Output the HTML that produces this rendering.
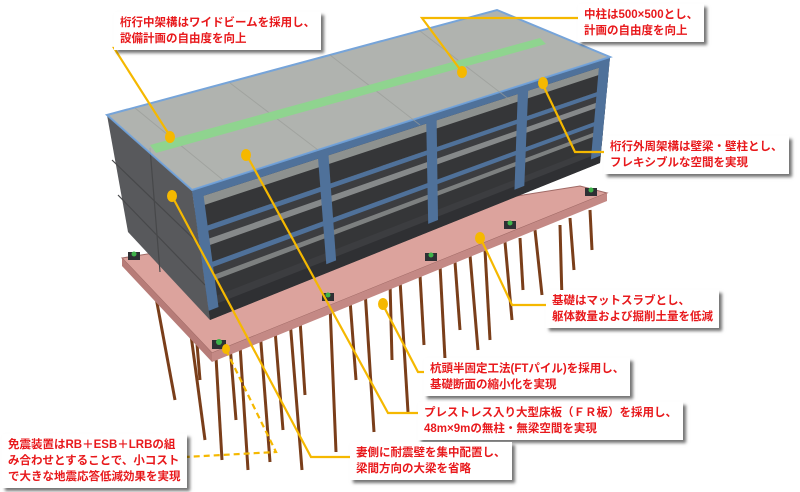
<!DOCTYPE html>
<html><head><meta charset="utf-8"><style>
html,body{margin:0;padding:0;background:#fff;}
body{width:800px;height:492px;overflow:hidden;position:relative;font-family:"Liberation Sans","Noto Sans CJK JP",sans-serif;}
.box{position:absolute;background:#fff;color:#e8191c;font-size:11.5px;font-weight:bold;line-height:16px;padding:3px 6px;box-shadow:3px 3px 3px rgba(0,0,0,0.55);white-space:nowrap;}
svg{position:absolute;left:0;top:0;}
</style></head><body>
<svg id="s" width="800" height="492" viewBox="0 0 800 492">
<g stroke="#7a3e1a" stroke-width="3">
<line x1="150" y1="265" x2="175" y2="400"/><line x1="185" y1="290" x2="205" y2="440"/>
<line x1="215" y1="340" x2="222" y2="460"/><line x1="240" y1="345" x2="248" y2="470"/>
<line x1="260" y1="330" x2="270" y2="462"/><line x1="290" y1="320" x2="302" y2="470"/>
<line x1="330" y1="305" x2="336" y2="452"/><line x1="365" y1="290" x2="374" y2="432"/>
<line x1="400" y1="280" x2="408" y2="412"/><line x1="440" y1="265" x2="446" y2="378"/>
<line x1="470" y1="255" x2="478" y2="350"/><line x1="505" y1="242" x2="512" y2="320"/>
<line x1="535" y1="230" x2="542" y2="295"/><line x1="570" y1="218" x2="574" y2="270"/>
<line x1="590" y1="210" x2="592" y2="250"/><line x1="300" y1="320" x2="305" y2="395"/>
<line x1="350" y1="300" x2="356" y2="380"/><line x1="420" y1="275" x2="424" y2="345"/>
<line x1="455" y1="262" x2="460" y2="330"/><line x1="520" y1="238" x2="523" y2="290"/>
<line x1="195" y1="320" x2="200" y2="380"/><line x1="230" y1="345" x2="236" y2="420"/>
<line x1="275" y1="330" x2="283" y2="430"/><line x1="390" y1="282" x2="392" y2="360"/>
<line x1="560" y1="225" x2="562" y2="300"/><line x1="485" y1="250" x2="490" y2="340"/>
</g>
<polygon points="122,258 580,186 607,193 212,353" fill="#dca39d" stroke="#a06a66" stroke-width="1"/>
<polygon points="122,258 212,353 212,362 122,266" fill="#b77c78"/>
<polygon points="212,353 607,193 607,201 212,362" fill="#c48985"/>
<polygon points="107,115 192,190 210,320 128,232" fill="#58595c"/>
<g stroke="#47484a" stroke-width="1.2"><line x1="112" y1="160" x2="200" y2="245"/><line x1="118" y1="195" x2="205" y2="285"/><line x1="150" y1="148" x2="160" y2="272"/></g>
<g id="front"></g>
<polygon points="107,115 497,10 610,57 192,190" fill="#acafab" opacity="0.95" stroke="#6fa0d8" stroke-width="2"/>
<g stroke="#9a9d99" stroke-width="1" opacity="0.7"><line x1="135" y1="108" x2="223" y2="180"/><line x1="230" y1="83" x2="318" y2="150"/><line x1="330" y1="55" x2="420" y2="125"/><line x1="420" y1="31" x2="510" y2="100"/></g>
<polygon points="150,145 540,38 546,44 156,153" fill="#8fd48f"/>
<g fill="#2e3034"><rect x="128" y="252" width="12" height="8"/><rect x="212" y="340" width="14" height="9"/><rect x="322" y="293" width="12" height="8"/><rect x="425" y="253" width="12" height="8"/><rect x="504" y="221" width="12" height="8"/><rect x="585" y="188" width="12" height="8"/></g>
<g fill="#3fb34a"><circle cx="134" cy="254" r="2.5"/><circle cx="219" cy="342" r="3"/><circle cx="328" cy="295" r="2.5"/><circle cx="431" cy="255" r="2.5"/><circle cx="510" cy="223" r="2.5"/><circle cx="591" cy="190" r="2.5"/></g>
<g stroke="#f5b800" stroke-width="2.2" fill="none">
<polyline points="158,48 114,48 170,136"/>
<polyline points="578,18 422,18 462,72"/>
<polyline points="608,152 575,152 543,85"/>
<polyline points="245,152 388,413 420,413"/>
<polyline points="172,196 311,457 352,457"/>
<polyline points="383,305 418,372 425,372"/>
<polyline points="480,237 512,305 548,305"/>
<polyline points="226,350 276,452 185,457" stroke-dasharray="6,4"/>
</g>
<g fill="#f5b800"><ellipse cx="170" cy="137" rx="5" ry="6"/><ellipse cx="462" cy="72" rx="5" ry="6"/><ellipse cx="543" cy="83" rx="5" ry="6"/><ellipse cx="246" cy="155" rx="5" ry="6"/><ellipse cx="172" cy="196" rx="5" ry="6"/><ellipse cx="383" cy="304" rx="5" ry="6"/><ellipse cx="480" cy="238" rx="5" ry="6"/><ellipse cx="226" cy="349" rx="4" ry="5"/></g>
</svg>
<script>
(function(){
var A=[192,190],B=[610,57],C=[210,320],D=[600,163];
function P(t,s){var tx=A[0]+(B[0]-A[0])*t,ty=A[1]+(B[1]-A[1])*t,bx=C[0]+(D[0]-C[0])*t,by=C[1]+(D[1]-C[1])*t;return [tx+(bx-tx)*s,ty+(by-ty)*s];}
function q(t0,t1,s0,s1,f){var p=[P(t0,s0),P(t1,s0),P(t1,s1),P(t0,s1)];return '<polygon points="'+p.map(function(a){return a[0].toFixed(1)+','+a[1].toFixed(1)}).join(' ')+'" fill="'+f+'"/>';}
var h=q(0,1,0,1,'#3c3d40');
h+=q(0,1,0.07,0.3,'#8d918f');h+=q(0,1,0.4,0.55,'#86898a');h+=q(0,1,0.68,0.8,'#7d8080');
h+=q(0,1,0.14,0.3,'#353638');h+=q(0,1,0.45,0.58,'#353638');h+=q(0,1,0.72,0.84,'#353638');
var b='#4f719a';
h+=q(0,1,0,0.07,b);h+=q(0,1,0.3,0.34,b);h+=q(0,1,0.58,0.62,b);h+=q(0,1,0.9,1,'#2f3033');
[0,0.3,0.56,0.78,0.975].forEach(function(t){h+=q(t,t+0.025,0,0.93,b);});
document.getElementById('front').innerHTML=h;
})();
</script>
<div class="box" style="left:114px;top:12px;">桁行中架構はワイドビームを採用し、<br>設備計画の自由度を向上</div>
<div class="box" style="left:578px;top:4px;">中柱は500×500とし、<br>計画の自由度を向上</div>
<div class="box" style="left:604px;top:136px;">桁行外周架構は壁梁・壁柱とし、<br>フレキシブルな空間を実現</div>
<div class="box" style="left:546px;top:290px;">基礎はマットスラブとし、<br>躯体数量および掘削土量を低減</div>
<div class="box" style="left:424px;top:358px;">杭頭半固定工法(FTパイル)を採用し、<br>基礎断面の縮小化を実現</div>
<div class="box" style="left:418px;top:402px;">プレストレス入り大型床板（ＦＲ板）を採用し、<br>48m×9mの無柱・無梁空間を実現</div>
<div class="box" style="left:350px;top:442px;">妻側に耐震壁を集中配置し、<br>梁間方向の大梁を省略</div>
<div class="box" style="left:2px;top:434px;">免震装置はRB＋ESB＋LRBの組<br>み合わせとすることで、小コスト<br>で大きな地震応答低減効果を実現</div>
</body></html>
